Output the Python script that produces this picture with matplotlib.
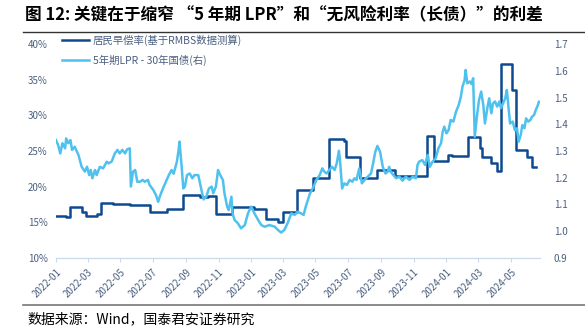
import pandas as pd
import matplotlib
matplotlib.use('Agg')
import matplotlib.pyplot as plt
import matplotlib.dates as mdates
from matplotlib.ticker import FuncFormatter

plt.rcParams['font.family'] = ['Noto Sans CJK SC', 'DejaVu Sans']
plt.rcParams['axes.unicode_minus'] = False

# 数据：天数偏移 (自 2022-01-01 起)
start = pd.Timestamp('2022-01-01')

# 居民早偿率 (%)，阶梯
prepay_days = [0, 19, 27, 49, 57, 77, 85, 106, 138, 176, 207, 237, 269, 284, 300,
               330, 371, 392, 416, 424, 450, 480, 511, 539, 543, 568, 601, 633,
               694, 707, 733, 741, 771, 793, 797, 814, 825, 832, 853, 860, 881,
               890, 898]
prepay_rate = [15.9, 15.7, 17.1, 16.4, 15.9, 16.2, 17.7, 17.6, 17.5, 16.5, 16.9, 18.8,
               18.6, 18.7, 16.1, 17.1, 16.9, 15.4, 15.1, 16.5, 19.6, 21.2, 26.7, 26.4,
               24.2, 21.2, 22.3, 21.5, 27.1, 23.6, 24.4, 24.3, 27.0, 25.4, 24.1, 23.3,
               22.2, 37.2, 33.6, 25.1, 24.2, 22.8, 22.8]

# 5年期LPR - 30年国债 (右轴)
spread_days = [0, 4, 8, 12, 17, 19, 23, 27, 30, 35, 42, 48, 54, 58, 62, 65, 68, 73,
               76, 82, 88, 95, 98, 104, 110, 115, 119, 124, 129, 133, 138, 140, 144,
               148, 152, 157, 162, 166, 172, 175, 182, 187, 191, 195, 200, 207, 211,
               216, 220, 226, 229, 231, 235, 238, 241, 245, 250, 255, 259, 266, 272,
               276, 281, 286, 291, 294, 299, 303, 307, 312, 315, 320, 323, 328, 330,
               334, 340, 346, 353, 359, 365, 371, 378, 384, 390, 399, 409, 415, 421,
               427, 433, 440, 446, 452, 458, 463, 467, 471, 475, 480, 487, 493, 498,
               502, 506, 511, 516, 521, 525, 529, 531, 535, 539, 544, 549, 554, 558,
               562, 567, 572, 577, 583, 589, 593, 597, 601, 606, 611, 616, 620, 623,
               626, 631, 636, 642, 648, 654, 661, 667, 673, 676, 679, 685, 690, 695,
               699, 704, 710, 715, 720, 723, 726, 730, 734, 738, 743, 748, 753, 757,
               760, 764, 766, 769, 774, 777, 780, 783, 787, 791, 795, 799, 802, 807,
               810, 814, 817, 821, 825, 829, 832, 836, 840, 843, 846, 849, 854, 858,
               862, 865, 869, 872, 876, 879, 883, 887, 890, 894, 897, 900, 903]
spread = [1.341, 1.322, 1.291, 1.329, 1.310, 1.347, 1.329, 1.341, 1.304, 1.316, 1.285,
          1.241, 1.223, 1.241, 1.210, 1.229, 1.198, 1.229, 1.210, 1.241, 1.235, 1.260,
          1.254, 1.260, 1.291, 1.304, 1.291, 1.304, 1.291, 1.306, 1.310, 1.167, 1.223,
          1.229, 1.185, 1.185, 1.192, 1.185, 1.192, 1.173, 1.154, 1.135, 1.110, 1.135,
          1.160, 1.192, 1.210, 1.229, 1.215, 1.260, 1.300, 1.335, 1.240, 1.160, 1.167,
          1.210, 1.216, 1.198, 1.210, 1.210, 1.154, 1.119, 1.129, 1.160, 1.167, 1.142,
          1.167, 1.229, 1.210, 1.192, 1.142, 1.092, 1.079, 1.129, 1.067, 1.042, 1.030,
          1.011, 1.023, 1.067, 1.092, 1.067, 1.042, 1.023, 1.017, 1.023, 1.017, 1.005,
          0.995, 1.005, 1.030, 1.067, 1.061, 1.073, 1.067, 1.061, 1.092, 1.117, 1.142,
          1.160, 1.192, 1.210, 1.235, 1.222, 1.216, 1.229, 1.241, 1.229, 1.254, 1.301,
          1.266, 1.160, 1.179, 1.173, 1.192, 1.185, 1.198, 1.192, 1.235, 1.179, 1.192,
          1.204, 1.216, 1.254, 1.297, 1.319, 1.297, 1.241, 1.216, 1.222, 1.241, 1.222,
          1.210, 1.198, 1.204, 1.189, 1.204, 1.192, 1.204, 1.198, 1.248, 1.260, 1.266,
          1.248, 1.285, 1.241, 1.260, 1.273, 1.310, 1.329, 1.372, 1.391, 1.366, 1.378,
          1.416, 1.410, 1.447, 1.472, 1.503, 1.540, 1.565, 1.603, 1.553, 1.560, 1.550,
          1.572, 1.353, 1.428, 1.491, 1.522, 1.472, 1.403, 1.466, 1.497, 1.441, 1.478,
          1.485, 1.466, 1.485, 1.460, 1.478, 1.497, 1.528, 1.466, 1.403, 1.410, 1.378,
          1.385, 1.335, 1.360, 1.397, 1.385, 1.422, 1.410, 1.416, 1.428, 1.435, 1.453,
          1.466, 1.484]

title = '图 12: 关键在于缩窄 “5 年期 LPR”和“无风险利率（长债）”的利差'
source = '数据来源：Wind，国泰君安证券研究'
label_prepay = '居民早偿率(基于RMBS数据测算)'
label_spread = '5年期LPR - 30年国债(右)'

dark = '#0d4a90'
light = '#4fc1ee'
tick_col = '#4a5f80'

prepay_dates = start + pd.to_timedelta(prepay_days, unit='D')
spread_dates = start + pd.to_timedelta(spread_days, unit='D')

fig = plt.figure(figsize=(5.85, 3.34), dpi=100)
ax = fig.add_axes([56 / 585, 1 - 258 / 334, (540 - 56) / 585, (258 - 44) / 334])
ax2 = ax.twinx()

l1, = ax.plot(prepay_dates, prepay_rate, drawstyle='steps-post', color=dark, lw=1.8)
l2, = ax2.plot(spread_dates, spread, color=light, lw=1.8)

ax.set_ylim(10, 40)
ax.set_yticks(range(10, 41, 5))
ax.yaxis.set_major_formatter(FuncFormatter(lambda v, p: f'{v:.0f}%'))
ax2.set_ylim(0.9, 1.7)
ax2.set_yticks([0.9, 1.0, 1.1, 1.2, 1.3, 1.4, 1.5, 1.6, 1.7])
ax2.yaxis.set_major_formatter(FuncFormatter(lambda v, p: f'{v:.1f}'))

ax.set_xlim(start, start + pd.Timedelta(days=905))
ax.xaxis.set_major_locator(mdates.MonthLocator(bymonth=[1, 3, 5, 7, 9, 11]))
ax.xaxis.set_major_formatter(mdates.DateFormatter('%Y-%m'))

for a in (ax, ax2):
    for s in ('top', 'left', 'right'):
        a.spines[s].set_visible(False)
    a.spines['bottom'].set_color('#c9d9ea')
    a.tick_params(axis='y', length=0, labelsize=7, labelcolor=tick_col)
ax.tick_params(axis='x', length=3, color='#c9d9ea', labelsize=7, labelcolor=tick_col)
plt.setp(ax.get_xticklabels(), rotation=45, ha='right', rotation_mode='anchor')
ax.tick_params(axis='y', pad=6)
ax2.tick_params(axis='y', pad=10)

leg = ax.legend([l1, l2], [label_prepay, label_spread], loc='upper left',
                bbox_to_anchor=(0.012, 1.045), frameon=False, fontsize=7.5,
                handlelength=2.6, handletextpad=0.4, labelspacing=0.85,
                borderaxespad=0, borderpad=0)
for t in leg.get_texts():
    t.set_color(tick_col)

fig.text(25 / 585, 1 - 15 / 334, title, fontsize=12, fontweight='bold', va='center', ha='left')
fig.add_artist(plt.Line2D([23 / 585, 1], [1 - 32 / 334] * 2, color='#333333', lw=1))
fig.add_artist(plt.Line2D([23 / 585, 1], [1 - 305 / 334] * 2, color='#777777', lw=1.2))
fig.text(27 / 585, 1 - 319 / 334, source, fontsize=10, va='center', ha='left')

fig.savefig('out.png', dpi=100)
